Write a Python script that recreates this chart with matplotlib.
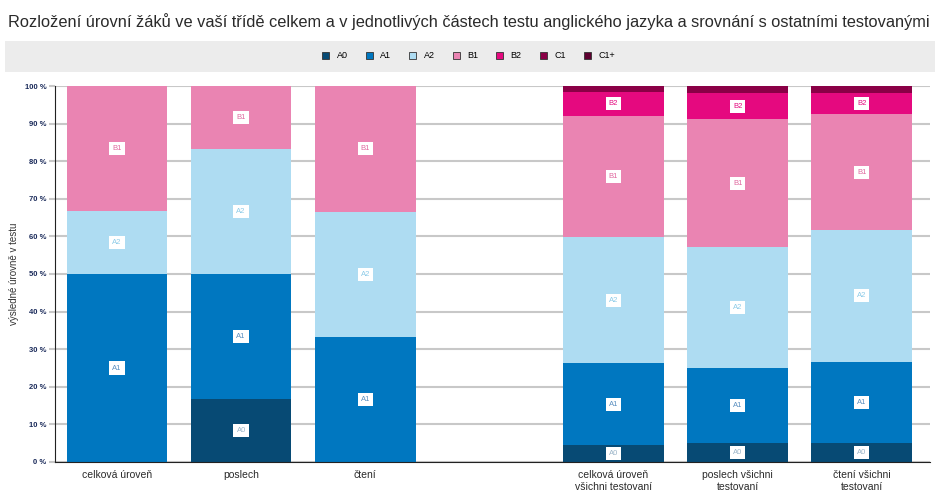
import matplotlib.pyplot as plt
import numpy as np
from matplotlib.patches import Rectangle, Patch

# categories (empty slot in the middle separates class vs. all tested)
categories = ["celková úroveň", "poslech", "čtení", "",
              "celková úroveň\nvšichni testovaní", "poslech všichni\ntestovaní",
              "čtení všichni\ntestovaní"]
levels = ["A0", "A1", "A2", "B1", "B2", "C1", "C1+"]
colors = ["#074a74", "#0077c0", "#aedcf2", "#ea84b2", "#e5097f", "#8a0046", "#5e0030"]
label_colors = ["#9ab4c8", "#5a8fc0", "#8ccbe8", "#e06aa0", "#e5097f", "#8a0046", "#5e0030"]

A0 = [0, 16.7, 0, 0, 4.5, 5.0, 5.0]
A1 = [50.0, 33.3, 33.3, 0, 21.8, 20.1, 21.7]
A2 = [16.7, 33.3, 33.3, 0, 33.5, 32.0, 35.0]
B1 = [33.3, 16.7, 33.4, 0, 32.2, 34.0, 30.8]
B2 = [0, 0, 0, 0, 6.5, 7.0, 5.6]
C1 = [0, 0, 0, 0, 1.5, 1.9, 1.9]
C1p = [0, 0, 0, 0, 0, 0, 0]
series = [A0, A1, A2, B1, B2, C1, C1p]

yticks = [0, 10, 20, 30, 40, 50, 60, 70, 80, 90, 100]

plt.rcParams['font.family'] = ['Liberation Sans', 'DejaVu Sans']
fig = plt.figure(figsize=(9.37, 5.01), dpi=100)
ax = fig.add_axes([55 / 937, 39 / 501, (930 - 55) / 937, (415 - 39) / 501])

x = np.arange(len(categories))
bottom = np.zeros(len(categories))
for lev, vals, col, lcol in zip(levels, series, colors, label_colors):
    vals = np.array(vals)
    ax.bar(x, vals, width=0.81, bottom=bottom, color=col, zorder=2)
    for xi, v, b in zip(x, vals, bottom):
        if v >= 3:
            ax.text(xi, b + v / 2, lev, ha="center", va="center", fontsize=5.5,
                    color=lcol, zorder=3,
                    bbox=dict(boxstyle="square,pad=0.4", fc="white", ec="none"))
    bottom += vals

ax.set_xlim(-0.5, 6.55)
ax.set_ylim(0, 100)
ax.set_yticks(yticks)
ax.set_yticklabels([f"{t} %" for t in yticks], fontsize=5.5, color="#1a2a5a",
                   fontweight="bold")
ax.set_xticks(x)
ax.set_xticklabels(categories, fontsize=7.5, color="#2a2a2a")
ax.tick_params(axis="x", length=0, pad=6)
ax.tick_params(axis="y", length=4, color="#c8c8c8", width=1.5, pad=2)
ax.yaxis.grid(True, color="#c8c8c8", lw=1.5, zorder=0)
for s in ["top", "right"]:
    ax.spines[s].set_visible(False)
ax.spines["left"].set_color("#222222")
ax.spines["bottom"].set_color("#222222")
ax.set_ylabel("výsledné úrovně v testu", fontsize=7, color="#333333", labelpad=4)

fig.text(8 / 937, 1 - 22 / 501, "Rozložení úrovní žáků ve vaší třídě celkem a v jednotlivých "
         "částech testu anglického jazyka a srovnání s ostatními testovanými",
         fontsize=11.8, color="#2a2a2a", va="center", ha="left")

# legend band
fig.patches.append(Rectangle((5 / 937, 1 - 72 / 501), 930 / 937, 31 / 501,
                             transform=fig.transFigure, fc="#ececec", ec="none"))
handles = [Patch(facecolor=c, edgecolor="#333333", linewidth=0.6) for c in colors]
fig.legend(handles, levels, loc="center", bbox_to_anchor=(0.5, 1 - 56 / 501),
           ncol=7, frameon=False, fontsize=6.5, handlelength=0.8, handleheight=0.8,
           columnspacing=2.0, handletextpad=0.8)

fig.savefig("out.png", dpi=100)
